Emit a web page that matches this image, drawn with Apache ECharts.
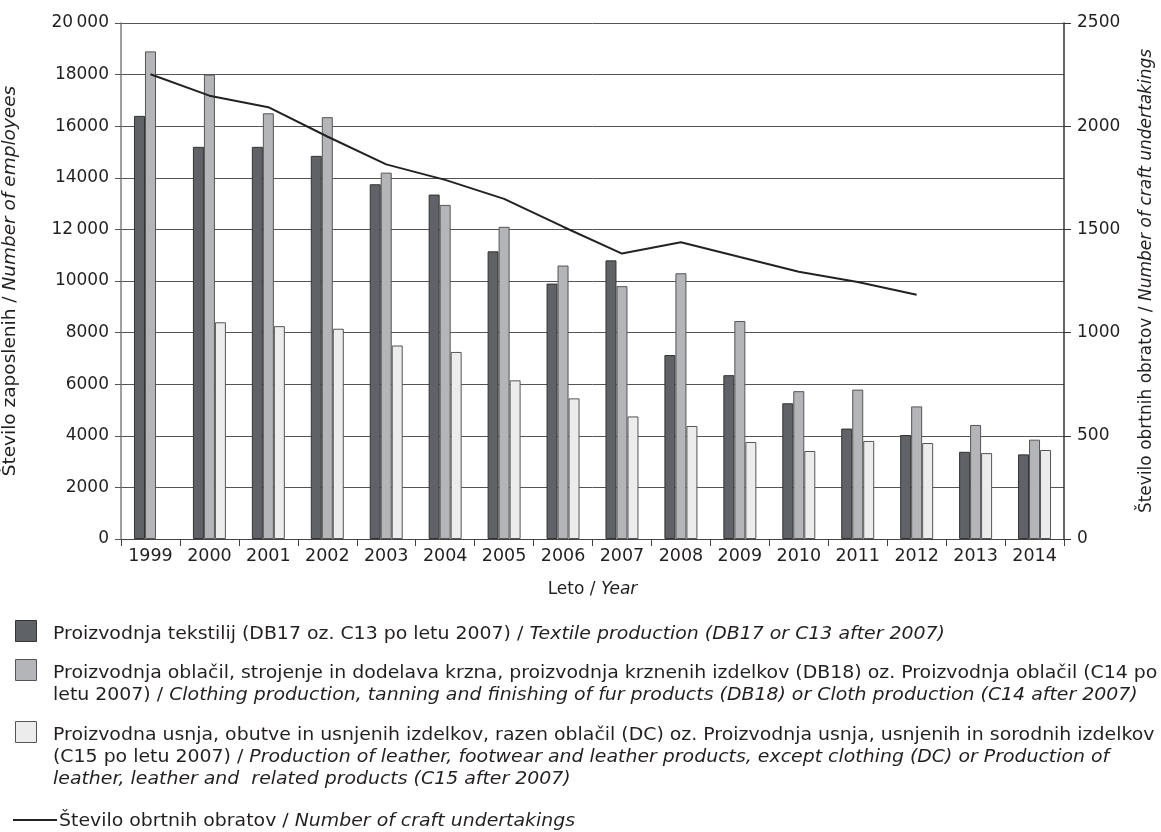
<!DOCTYPE html>
<html>
<head>
<meta charset="utf-8">
<script src="https://cdn.jsdelivr.net/npm/echarts@6/dist/echarts.min.js"></script>
<style>
  html, body { margin: 0; padding: 0; background: #fff; }
  #chart { width: 1161px; height: 832px; }
</style>
</head>
<body>
<div id="chart"></div>
<script>
// leta
const years = ['1999', '2000', '2001', '2002', '2003', '2004', '2005', '2006',
  '2007', '2008', '2009', '2010', '2011', '2012', '2013', '2014'];

// število zaposlenih po dejavnostih
const textile = [16400, 15200, 15200, 14850, 13750, 13350, 11150, 9900,
  10800, 7130, 6350, 5260, 4280, 4030, 3380, 3280];
const clothing = [18900, 18000, 16500, 16350, 14200, 12950, 12100, 10600,
  9800, 10300, 8450, 5730, 5790, 5140, 4420, 3850];
const leather = [null, 8400, 8250, 8150, 7500, 7250, 6150, 5450,
  4750, 4380, 3760, 3410, 3800, 3720, 3330, 3450];

// število obrtnih obratov (desna os)
const crafts = [2252, 2148, 2092, 1950, 1815, 1740, 1648, 1513,
  1383, 1438, 1366, 1295, 1245, 1183, null, null];

// oznake na levi osi
const leftTickLabels = {
  0: '0', 2000: '2000', 4000: '4000', 6000: '6000', 8000: '8000', 10000: '10000',
  12000: '12\u2009000', 14000: '14000', 16000: '16000', 18000: '18000', 20000: '20\u2009000'
};

const FONT = 'DejaVu Sans';
const TXT = '#231f20';

const chart = echarts.init(document.getElementById('chart'), null, { renderer: 'canvas' });

function barSeries(name, data, fill, border) {
  return {
    name: name,
    type: 'bar',
    data: data,
    barWidth: 11,
    barGap: '0%',
    itemStyle: { color: fill, borderColor: border, borderWidth: 1 },
    emphasis: { disabled: true }
  };
}

function nameRich(size) {
  return {
    n: { fontFamily: FONT, fontSize: size, color: TXT },
    i: { fontFamily: FONT, fontSize: size, color: TXT, fontStyle: 'italic' }
  };
}

// legenda (ročno postavljena)
const legendRows = [
  { y: 620, fill: '#5f6266', border: '#333', lines: [
    '{n|Proizvodnja tekstilij (DB17 oz. C13 po letu 2007) / }{i|Textile production (DB17 or C13 after 2007)}'] },
  { y: 659, fill: '#b3b5b8', border: '#555', lines: [
    '{n|Proizvodnja oblačil, strojenje in dodelava krzna, proizvodnja krznenih izdelkov (DB18) oz. Proizvodnja oblačil (C14 po}',
    '{n|letu 2007) / }{i|Clothing production, tanning and finishing of fur products (DB18) or Cloth production (C14 after 2007)}'] },
  { y: 721, fill: '#ebeceb', border: '#555', lines: [
    '{n|Proizvodna usnja, obutve in usnjenih izdelkov, razen oblačil (DC) oz. Proizvodnja usnja, usnjenih in sorodnih izdelkov}',
    '{n|(C15 po letu 2007) / }{i|Production of leather, footwear and leather products, except clothing (DC) or Production of}',
    '{i|leather, leather and  related products (C15 after 2007)}'] }
];

const richStyle = {
  n: { fontFamily: FONT, fontSize: 18, color: TXT, lineHeight: 22 },
  i: { fontFamily: FONT, fontSize: 18, color: TXT, fontStyle: 'italic', lineHeight: 22 }
};

const graphics = [];
legendRows.forEach(function (row) {
  graphics.push({
    type: 'rect', left: 15, top: row.y,
    shape: { width: 21, height: 21 },
    style: { fill: row.fill, stroke: row.border, lineWidth: 1 }
  });
  graphics.push({
    type: 'text', x: 53, y: row.y + 3, scaleX: 1.05,
    style: { text: row.lines.join('\n'), rich: richStyle, fill: TXT }
  });
});
graphics.push({
  type: 'line', x: 13, y: 820,
  shape: { x1: 0, y1: 0, x2: 44, y2: 0 },
  style: { stroke: '#222', lineWidth: 2 }
});
graphics.push({
  type: 'text', x: 59, y: 810, scaleX: 1.05,
  style: { text: '{n|Število obrtnih obratov / }{i|Number of craft undertakings}', rich: richStyle, fill: TXT }
});

const option = {
  animation: false,
  backgroundColor: '#fff',
  textStyle: { fontFamily: FONT, color: TXT },
  grid: { left: 121, right: 97, top: 23, bottom: 293, containLabel: false, outerBoundsMode: 'none' },
  xAxis: {
    type: 'category',
    data: years,
    boundaryGap: true,
    name: '{n|Leto / }{i|Year}',
    nameLocation: 'middle',
    nameGap: 42,
    nameTextStyle: { rich: nameRich(17) },
    axisLine: { lineStyle: { color: '#444', width: 1 } },
    axisTick: { show: true, alignWithLabel: false, length: 7, lineStyle: { color: '#444' } },
    axisLabel: { fontFamily: FONT, fontSize: 17.5, color: TXT, margin: 8 },
    splitLine: { show: false }
  },
  yAxis: [
    {
      type: 'value',
      min: 0, max: 20000, interval: 2000,
      position: 'left',
      name: '{n|Število zaposlenih / }{i|Number of employees}',
      nameLocation: 'middle',
      nameRotate: 90,
      nameGap: 101,
      nameTextStyle: { rich: nameRich(18.5) },
      axisLine: { show: true, lineStyle: { color: '#808080', width: 1.5 } },
      axisTick: { show: true, length: 6, lineStyle: { color: '#555' } },
      axisLabel: {
        fontFamily: FONT, fontSize: 17, color: TXT, margin: 12,
        formatter: function (v) { return leftTickLabels[v] !== undefined ? leftTickLabels[v] : String(v); }
      },
      splitLine: { show: true, lineStyle: { color: '#555', width: 1 } }
    },
    {
      type: 'value',
      min: 0, max: 2500, interval: 500,
      position: 'right',
      name: '{n|Število obrtnih obratov / }{i|Number of craft undertakings}',
      nameLocation: 'middle',
      nameRotate: 90,
      nameGap: 74,
      nameTextStyle: { rich: nameRich(17) },
      axisLine: { show: true, lineStyle: { color: '#333', width: 1.5 } },
      axisTick: { show: true, length: 7, lineStyle: { color: '#333' } },
      axisLabel: {
        fontFamily: FONT, fontSize: 17, color: TXT, margin: 13,
        formatter: function (v) { return String(v); }
      },
      splitLine: { show: false }
    }
  ],
  series: [
    barSeries('Proizvodnja tekstilij', textile, '#5f6266', '#333'),
    barSeries('Proizvodnja oblačil', clothing, '#b3b5b8', '#555'),
    barSeries('Proizvodnja usnja', leather, '#ebeceb', '#555'),
    {
      name: 'Število obrtnih obratov',
      type: 'line',
      yAxisIndex: 1,
      data: crafts,
      showSymbol: false,
      symbol: 'none',
      lineStyle: { color: '#222', width: 2 },
      z: 5,
      emphasis: { disabled: true }
    }
  ],
  graphic: graphics
};

chart.setOption(option);
</script>
</body>
</html>
